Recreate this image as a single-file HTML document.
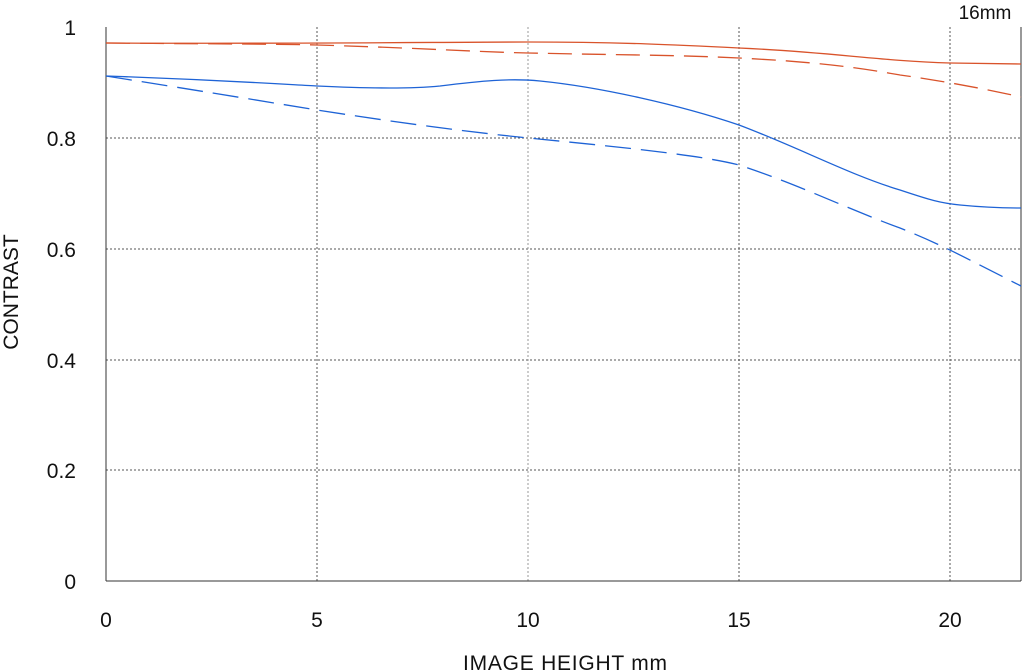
<!DOCTYPE html>
<html><head><meta charset="utf-8"><style>
html,body{margin:0;padding:0;background:#fff;}
svg{display:block;font-family:"Liberation Sans",sans-serif;}
</style></head><body>
<svg width="1024" height="672" viewBox="0 0 1024 672" xmlns="http://www.w3.org/2000/svg">
<rect width="1024" height="672" fill="#fff"/>
<g stroke="#555" stroke-width="1" stroke-dasharray="2,2" fill="none">
<line x1="106" y1="138" x2="1021" y2="138"/>
<line x1="106" y1="249" x2="1021" y2="249"/>
<line x1="106" y1="360" x2="1021" y2="360"/>
<line x1="106" y1="470" x2="1021" y2="470"/>
<line x1="317" y1="27" x2="317" y2="581"/>
<line x1="528" y1="27" x2="528" y2="581" stroke="#999"/>
<line x1="739" y1="27" x2="739" y2="581"/>
<line x1="950" y1="27" x2="950" y2="581"/>
</g>
<g stroke="#333" stroke-width="1" fill="none">
<line x1="106" y1="27" x2="106" y2="581"/>
<line x1="106" y1="581" x2="1021" y2="581"/>
<line x1="1021" y1="27" x2="1021" y2="581"/>
</g>
<g fill="none" stroke-width="1.3">
<path d="M106,43 C300,44 450,42 528,42 C620,42 680,45 739,48 C830,52 880,61 950,63 L1021,64" stroke="#d9532b"/>
<path d="M106,43 C220,44 280,44 317,45 C420,48 480,52 528,53 C620,55 680,55 739,58 C820,62 860,68 900,75 C950,82 990,90 1021,97" stroke="#d9532b" stroke-dasharray="24,10"/>
<path d="M106,76 C220,80 280,84 317,86 C380,89 420,88 440,86 C480,81 510,78 540,81 C600,87 680,105 739,125 C800,148 850,175 900,190 C930,200 940,203 960,205 C990,208 1010,208 1021,208" stroke="#1e63d6"/>
<path d="M106,76 C220,94 280,104 317,110 C420,126 480,133 528,138 C620,147 700,155 739,165 C800,185 850,210 900,228 C940,244 960,255 1021,286" stroke="#1e63d6" stroke-dasharray="26,10"/>
</g>
<g font-size="21" fill="#111" text-anchor="end">
<text x="76" y="35">1</text>
<text x="76" y="146">0.8</text>
<text x="76" y="257">0.6</text>
<text x="76" y="368">0.4</text>
<text x="76" y="478">0.2</text>
<text x="76" y="589">0</text>
</g>
<g font-size="21" fill="#111" text-anchor="middle">
<text x="106" y="627">0</text>
<text x="317" y="627">5</text>
<text x="528" y="627">10</text>
<text x="739" y="627">15</text>
<text x="950" y="627">20</text>
<text x="565" y="670" textLength="204">IMAGE HEIGHT  mm</text>
</g>
<text x="985" y="19" font-size="19" fill="#111" text-anchor="middle">16mm</text>
<text transform="translate(18,292) rotate(-90)" font-size="21" fill="#111" text-anchor="middle">CONTRAST</text>
</svg>
</body></html>
